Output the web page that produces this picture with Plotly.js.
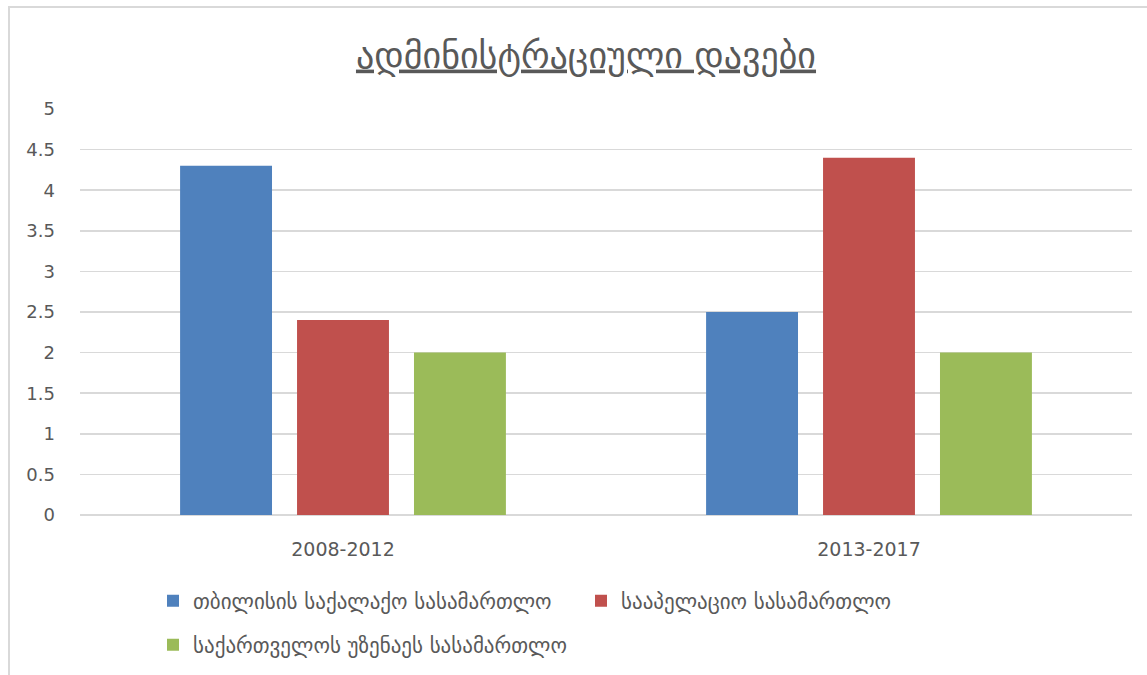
<!DOCTYPE html>
<html>
<head>
<meta charset="utf-8">
<script src="https://cdn.plot.ly/plotly-3.0.1.min.js"></script>
<style>
html,body{margin:0;padding:0;background:#fff;}
#wrap{position:relative;width:1147px;height:675px;}
#chart{width:1147px;height:675px;}
#frame{position:absolute;left:8px;top:6px;width:1139px;height:669px;border-left:2px solid #d9d9d9;border-top:2px solid #d9d9d9;box-sizing:border-box;pointer-events:none;}
</style>
</head>
<body>
<div id="wrap">
<div id="chart"></div>
<div id="frame"></div>
</div>
<script>
const categories = ["2008-2012", "2013-2017"];
const seriesNames = ["თბილისის საქალაქო სასამართლო", "სააპელაციო სასამართლო", "საქართველოს უზენაეს სასამართლო"];
const tbilisiCity = [4.3, 2.5];
const appeals = [2.4, 4.4];
const supreme = [2.0, 2.0];
const yTicks = [0, 0.5, 1, 1.5, 2, 2.5, 3, 3.5, 4, 4.5, 5];
const colors = ["#4F81BD", "#C0504D", "#9BBB59"];
const titleText = "ადმინისტრაციული დავები";

const values = [tbilisiCity, appeals, supreme];
const legendRefs = ["legend", "legend", "legend2"];
const traces = values.map((v, i) => ({
  type: "bar",
  x: categories,
  y: v,
  name: seriesNames[i],
  marker: {color: colors[i]},
  legend: legendRefs[i],
  hoverinfo: "x+y+name"
}));

const font = "DejaVu Sans, sans-serif";
const legendCommon = {
  orientation: "h",
  xanchor: "left", yanchor: "middle",
  font: {family: font, size: 21, color: "#595959"},
  itemwidth: 30,
  bgcolor: "rgba(0,0,0,0)",
  traceorder: "normal"
};
const layout = {
  width: 1147, height: 675,
  paper_bgcolor: "#fff", plot_bgcolor: "#fff",
  margin: {l: 80, r: 15, t: 109, b: 160, autoexpand: false},
  font: {family: font, color: "#595959"},
  title: {
    text: "<u>" + titleText + "</u>",
    font: {family: font, size: 36, color: "#595959"},
    x: (586 - 80) / 1052, xanchor: "center", y: 1 - 55/675, yanchor: "middle", xref: "paper", yref: "container"
  },
  barmode: "group",
  bargap: 0.333,
  bargroupgap: 0.214,
  xaxis: {
    type: "category",
    showgrid: false, zeroline: false, showline: false,
    ticks: "", ticklabelstandoff: 21,
    tickfont: {family: font, size: 19, color: "#595959"}
  },
  yaxis: {
    range: [0, 5],
    tickvals: yTicks,
    ticktext: yTicks.map(String),
    showgrid: true, gridcolor: "#d9d9d9", gridwidth: 1.5,
    zeroline: true, zerolinecolor: "#d9d9d9", zerolinewidth: 1.5,
    showline: false, ticks: "",
    ticklabelstandoff: 24,
    tickfont: {family: font, size: 18, color: "#595959"}
  },
  showlegend: true,
  legend: Object.assign({}, legendCommon, {
    x: (153 - 80) / 1052, y: (515 - 601) / 406,
    entrywidth: 383, entrywidthmode: "pixels"
  }),
  legend2: Object.assign({}, legendCommon, {
    x: (153 - 80) / 1052, y: (515 - 645) / 406
  })
};

Plotly.newPlot("chart", traces, layout, {displayModeBar: false, staticPlot: true});
</script>
</body>
</html>
